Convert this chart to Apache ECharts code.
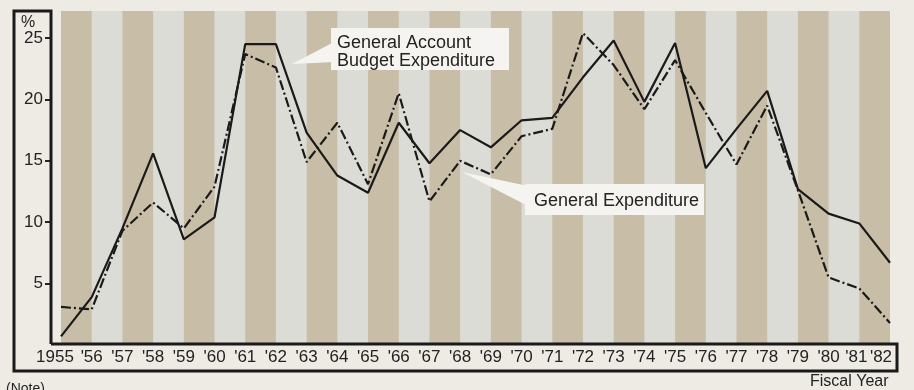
<!DOCTYPE html>
<html>
<head>
<meta charset="utf-8">
<script src="https://cdn.jsdelivr.net/npm/echarts@6/dist/echarts.min.js"></script>
<style>
  html, body { margin: 0; padding: 0; background: #eeebe4; }
  #chart { width: 914px; height: 390px; }
</style>
</head>
<body>
<div id="chart"></div>
<script>
// fiscal years 1955 - 1982
var years = [1955, 1956, 1957, 1958, 1959, 1960, 1961, 1962, 1963, 1964,
  1965, 1966, 1967, 1968, 1969, 1970, 1971, 1972, 1973, 1974,
  1975, 1976, 1977, 1978, 1979, 1980, 1981, 1982];
// General Account Budget Expenditure, growth %
var budgetExp = [0.7, 3.9, 9.5, 15.6, 8.6, 10.4, 24.5, 24.5, 17.3, 13.8,
  12.4, 18.1, 14.8, 17.5, 16.1, 18.3, 18.5, 21.8, 24.8, 19.8,
  24.6, 14.4, 17.6, 20.7, 12.7, 10.7, 9.9, 6.7];
// General Expenditure, growth %
var generalExp = [3.1, 2.9, 9.3, 11.6, 9.5, 12.9, 23.7, 22.6, 14.9, 18.1,
  13.1, 20.5, 11.7, 15.0, 13.9, 17.0, 17.6, 25.4, 22.8, 19.2,
  23.2, 18.9, 14.7, 19.5, 12.6, 5.5, 4.6, 1.8];
var yTicks = [5, 10, 15, 20, 25];

var font = "'Liberation Sans', Arial, Helvetica, sans-serif";
var ink = "#232323";
var tan = "#c8bea8";
var grey = "#dcdcd7";
var boxFill = "#f5f4f0";

var myChart = echarts.init(document.getElementById("chart"));

// tan stripe between every other pair of years
var stripes = [];
for (var i = 0; i < years.length - 1; i += 2) {
  stripes.push([{ xAxis: years[i] }, { xAxis: years[i + 1] }]);
}

function pairs(vals) {
  return years.map(function (y, i) {
    return [y, vals[i]];
  });
}

var option = {
  backgroundColor: "#eeebe4",
  animation: false,
  grid: {
    left: 61,
    right: 24,
    top: 11,
    bottom: 45,
    show: true,
    backgroundColor: grey,
    borderWidth: 0,
  },
  xAxis: {
    type: "value",
    min: years[0],
    max: years[years.length - 1],
    interval: 1,
    splitLine: { show: false },
    axisLine: { show: false },
    axisTick: { show: false },
    axisLabel: {
      color: ink,
      fontFamily: font,
      fontSize: 17,
      margin: 4,
      showMinLabel: true,
      showMaxLabel: true,
      formatter: function (v) {
        var s = "'" + String(v).slice(2);
        if (v === years[0]) return "{first|" + v + "}";
        if (v === years[years.length - 1]) return "{last|" + s + "}";
        if (v === years[years.length - 2]) return "{prev|" + s + "}";
        return s;
      },
      rich: {
        first: { fontSize: 17, fontFamily: font, color: ink, padding: [0, 12, 0, 0] },
        prev: { fontSize: 17, fontFamily: font, color: ink, padding: [0, 6, 0, 0] },
        last: { fontSize: 17, fontFamily: font, color: ink, padding: [0, 18, 0, 0] },
      },
    },
  },
  yAxis: {
    type: "value",
    min: 0,
    max: 27.2,
    interval: 5,
    offset: 10,
    splitLine: { show: false },
    axisLine: { show: false },
    axisTick: {
      show: true,
      length: 6,
      lineStyle: { color: ink, width: 2 },
      customValues: yTicks,
    },
    axisLabel: {
      color: ink,
      fontFamily: font,
      fontSize: 17,
      margin: 8,
      customValues: yTicks,
    },
  },
  series: [
    {
      name: "General Account Budget Expenditure",
      type: "line",
      data: pairs(budgetExp),
      symbol: "none",
      lineStyle: { color: "#1a1a1a", width: 2.2 },
      z: 3,
      markArea: {
        silent: true,
        itemStyle: { color: tan },
        data: stripes,
      },
    },
    {
      name: "General Expenditure",
      type: "line",
      data: pairs(generalExp),
      symbol: "none",
      lineStyle: { color: "#1a1a1a", width: 2.2, type: [10, 3, 2, 3] },
      z: 3,
    },
  ],
  graphic: [
    // frame around the axes
    {
      type: "polyline",
      shape: { points: [[51, 344], [51, 11], [14, 11], [14, 371], [897, 371], [897, 344], [51, 344]] },
      style: { stroke: "#1a1a1a", lineWidth: 3, fill: null },
      z: 10,
    },
    {
      type: "text",
      x: 21,
      y: 15,
      style: { text: "%", fill: ink, font: "16px " + font },
      z: 10,
    },
    // callout: budget expenditure
    {
      type: "polygon",
      shape: { points: [[292, 64], [334, 42], [334, 62]] },
      style: { fill: boxFill },
      z: 8,
    },
    {
      type: "rect",
      shape: { x: 331, y: 28, width: 178, height: 42 },
      style: { fill: boxFill },
      z: 8,
    },
    {
      type: "text",
      x: 337,
      y: 34,
      style: { text: "General Account\nBudget Expenditure", fill: ink, font: "18px " + font, lineHeight: 18 },
      z: 9,
    },
    // callout: general expenditure
    {
      type: "polygon",
      shape: { points: [[462, 172], [528, 186], [528, 206]] },
      style: { fill: boxFill },
      z: 8,
    },
    {
      type: "rect",
      shape: { x: 525, y: 184, width: 179, height: 31 },
      style: { fill: boxFill },
      z: 8,
    },
    {
      type: "text",
      x: 534,
      y: 192,
      style: { text: "General Expenditure", fill: ink, font: "18px " + font },
      z: 9,
    },
    {
      type: "text",
      x: 810,
      y: 374,
      style: { text: "Fiscal Year", fill: ink, font: "16px " + font },
      z: 9,
    },
    {
      type: "text",
      x: 6,
      y: 382,
      style: { text: "(Note)", fill: ink, font: "14px " + font },
      z: 9,
    },
  ],
};

myChart.setOption(option);
</script>
</body>
</html>
